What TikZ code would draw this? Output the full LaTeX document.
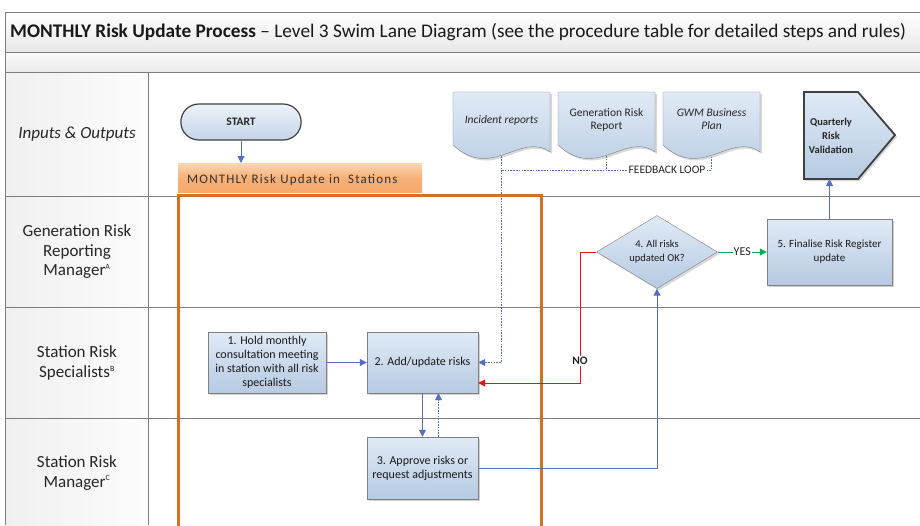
\documentclass[tikz,border=0pt]{standalone}
\usepackage{fontspec}
\setmainfont{Carlito}
\usetikzlibrary{arrows.meta,shadows,calc,shapes.geometric,shapes.misc}
\pgfdeclarelayer{bg}
\pgfdeclarelayer{lines}
\pgfsetlayers{bg,lines,main}
\definecolor{flowblue}{RGB}{85,110,190}
\definecolor{nored}{RGB}{232,20,20}
\definecolor{yesgreen}{RGB}{0,176,80}
\definecolor{orframe}{RGB}{212,112,35}
\definecolor{boxtop}{RGB}{224,234,246}
\definecolor{boxbot}{RGB}{182,202,226}
\definecolor{boxborder}{RGB}{128,128,128}
\definecolor{lanegray}{RGB}{125,125,125}
\definecolor{orlight}{RGB}{252,214,178}
\definecolor{ormid}{RGB}{244,160,95}
\tikzset{
  lane/.style={draw=lanegray, line width=0.8pt},
  lanelabel/.style={align=center, font=\fontsize{17}{19.5}\selectfont, text=black!85},
  procbox/.style={draw=boxborder, top color=boxtop, bottom color=boxbot, align=center,
     font=\fontsize{12}{14}\selectfont, text=black!90, inner sep=2pt,
     drop shadow={shadow xshift=2pt, shadow yshift=-2pt, opacity=0.35}},
  docstyle/.style={draw=boxborder, top color=boxtop, bottom color=boxbot,
     drop shadow={shadow xshift=2pt, shadow yshift=-2pt, opacity=0.3}},
  smalltext/.style={align=center, font=\fontsize{11.5}{13}\selectfont, text=black!85},
  flow/.style={draw=flowblue, line width=1pt, -{Triangle[length=7pt,width=7pt]}},
  fbline/.style={draw=flowblue, line width=0.9pt, dash pattern=on 1.6pt off 1.2pt},
  nolink/.style={draw=nored, line width=1pt, -{Triangle[length=7pt,width=7pt]}},
  yeslink/.style={draw=yesgreen, line width=1pt, -{Triangle[length=7pt,width=7pt]}},
}
\newcommand{\docshape}[4]{%
  \path[docstyle] (#1,#4) -- (#1,#2) -- (#3,#2) -- (#3,#4+7)
    .. controls ({#1+0.7*(#3-#1)},#4-14) and ({#1+0.4*(#3-#1)},#4+36) .. (#1,#4) -- cycle;}
\begin{document}
\begin{tikzpicture}[x=1pt,y=-1pt]
\useasboundingbox (0,0) rectangle (920,525);
\begin{pgfonlayer}{bg}
\fill[white] (0,0) rectangle (920,525);
% title bar and second bar
\shade[top color=white, bottom color=black!9] (5,12) rectangle (920,52);
\shade[top color=black!2, bottom color=black!8] (5,52) rectangle (920,72);
% lane header column
\shade[left color=black!6, right color=black!1] (5,72) rectangle (148,525);
% frame and lane lines
\draw[lane] (920,12) -- (5,12) -- (5,525);
\draw[lane] (5,52) -- (920,52);
\draw[lane] (5,72) -- (920,72);
\draw[lane] (148,72) -- (148,525);
\draw[lane] (5,196) -- (920,196);
\draw[lane] (5,307) -- (920,307);
\draw[lane] (5,418) -- (920,418);
\end{pgfonlayer}

% title
\node[anchor=west, font=\fontsize{19.3}{22}\selectfont, inner sep=0pt, text=black!90] (title) at (10,32)
  {\textbf{MONTHLY Risk Update Process} – Level 3 Swim Lane Diagram (see the procedure table for detailed steps and rules)};

% lane labels
\node[lanelabel] (lio) at (77,134) {\textit{Inputs \& Outputs}};
\node[lanelabel] (lgr) at (77,252) {Generation Risk\\Reporting\\Manager\textsuperscript{\fontsize{8}{8}\selectfont A}};
\node[lanelabel] (lsp) at (77,363) {Station Risk\\Specialists\textsuperscript{\fontsize{8}{8}\selectfont B}};
\node[lanelabel] (lsm) at (77,473) {Station Risk\\Manager\textsuperscript{\fontsize{8}{8}\selectfont C}};

% orange phase frame and label
\draw[orframe, line width=3pt] (178,530) -- (178,195) -- (541,195) -- (541,530);
\node[top color=orlight, bottom color=ormid!85!orlight, middle color=ormid!70!orlight,
      minimum width=244pt, minimum height=29pt, inner sep=0pt, anchor=north west] (phase) at (178,163) {};
\node[anchor=west, inner sep=0pt, font=\fontsize{13}{15}\selectfont\addfontfeature{LetterSpace=9}, text=black!80]
  (phasetext) at (187,180) {MONTHLY Risk Update in\ \ Stations};

% START
\node[rounded rectangle, draw=black!75, line width=1.2pt, top color=boxtop!60!white, bottom color=boxbot!80!white,
      minimum width=127pt, minimum height=36pt, font=\bfseries\fontsize{11.5}{13}\selectfont, text=black!85] (start) at (241,122) {START};

% documents
\docshape{453}{92}{550}{145}
\docshape{558}{92}{655}{145}
\docshape{663}{92}{760}{145}
\node[smalltext] (docir) at (501.5,120) {\textit{Incident reports}};
\node[smalltext] (docgrr) at (606.5,119.5) {Generation Risk\\Report};
\node[smalltext] (docgwm) at (711.5,119.5) {\textit{GWM Business}\\\textit{Plan}};

% quarterly risk validation
\path[draw=black!75, line width=1.8pt, top color=boxtop, bottom color=boxbot,
      drop shadow={shadow xshift=2pt, shadow yshift=-2pt, opacity=0.3}]
  (804,92) -- (858,92) -- (895,135) -- (858,179) -- (804,179) -- cycle;
\node[smalltext, font=\bfseries\fontsize{10.5}{14}\selectfont] (qrv) at (831,136) {Quarterly\\Risk\\Validation};
\coordinate (qrvbot) at (831,179);

% process boxes
\node[procbox, minimum width=118pt, minimum height=61pt] (b1) at (267,362.5)
  {1. Hold monthly\\consultation meeting\\in station with all risk\\specialists};
\node[procbox, minimum width=111pt, minimum height=61pt] (b2) at (422.5,362.5) {2. Add/update risks};
\node[procbox, minimum width=111pt, minimum height=62pt] (b3) at (422.5,468) {3. Approve risks or\\request adjustments};
\node[diamond, draw=boxborder, top color=boxtop, bottom color=boxbot, aspect=1.66, inner sep=0pt,
      minimum width=121pt, minimum height=73pt, align=center, font=\fontsize{10.5}{14}\selectfont, text=black!90,
      drop shadow={shadow xshift=2pt, shadow yshift=-2pt, opacity=0.3}] (d4) at (657,252) {4. All risks\\updated OK?};
\node[procbox, minimum width=125pt, minimum height=66pt, font=\fontsize{11}{14}\selectfont] (b5) at (829.5,252) {5. Finalise Risk Register\\update};

% feedback loop and connectors
\node[smalltext, fill=white, inner sep=1pt, font=\fontsize{11.5}{13}\selectfont] (fb) at (667,170) {FEEDBACK LOOP};
\begin{pgfonlayer}{lines}
\draw[fbline] (docir.center) -- (docir.center |- fb) -- (fb.west);
\draw[fbline] (docgrr.center) -- (docgrr.center |- fb);
\draw[fbline] (fb.east) -| (docgwm.center);
\draw[fbline, -{Triangle[length=7pt,width=7pt]}] (docir.center |- fb) |- (b2.east);
\end{pgfonlayer}

\draw[flow] (start.south) -- (start.south |- phase.north);
\draw[flow] (b1.east) -- (b2.west);
\draw[flow] (b2.south) -- (b3.north);
\draw[fbline, -{Triangle[length=7pt,width=7pt]}] ([xshift=16pt]b3.north) -- ([xshift=16pt]b2.south);
\draw[flow] (b3.east) -| (d4.south);
\draw[yeslink] (d4.east) -- node[fill=white, inner sep=1pt, font=\fontsize{12}{13}\selectfont, text=black!85] {YES} (b5.west);
\coordinate (nocorner) at (580,383);
\draw[nolink] (d4.west) -| (nocorner) -- (b2.east |- nocorner);
\node[fill=white, inner sep=1pt, font=\bfseries\fontsize{11.5}{13}\selectfont, text=black!85] (nolabel) at (580,361) {NO};
\draw[flow] (b5.north) -- (b5.north |- qrvbot);
\end{tikzpicture}
\end{document}
